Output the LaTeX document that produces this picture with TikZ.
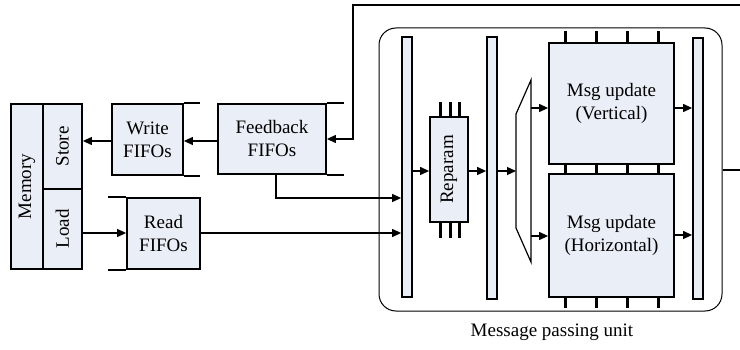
\documentclass[tikz,border=0pt]{standalone}
\usepackage{fontspec}
\setmainfont{Liberation Serif}
\usepackage{graphicx}
\usetikzlibrary{arrows.meta}
\definecolor{boxfill}{RGB}{234,238,246}
\begin{document}
\begin{tikzpicture}[x=1pt,y=-1pt,
  every node/.style={font=\fontsize{19}{23}\selectfont},
  blk/.style={draw, line width=1.8pt, fill=boxfill, inner sep=0pt, align=center},
  bar/.style={draw, line width=1.8pt, fill=boxfill, inner sep=0pt, minimum width=10pt},
  conn/.style={line width=1.2pt},
  arr/.style={conn, -{Triangle[length=9pt,width=8pt]}},
  pinline/.style={line width=3pt},
  fifoend/.style={line width=1.8pt}]
\useasboundingbox (0,0) rectangle (740,350);

% message passing unit frame
\node[draw, line width=1pt, rounded corners=17pt, minimum width=343pt, minimum height=283pt, inner sep=0pt]
  (mpu) at (550.5,169.5) {};
\node[anchor=base] (mpulabel) at (552,337) {Message passing unit};

% memory with store / load ports
\node[blk, minimum width=32pt, minimum height=165pt] (mem) at (27,186.5) {\rotatebox{90}{Memory}};
\node[blk, minimum width=39pt, minimum height=85pt] (store) at (62.5,146.5) {\rotatebox{90}{Store}};
\node[blk, minimum width=39pt, minimum height=80pt] (load) at (62.5,229) {\rotatebox{90}{Load}};

% FIFOs
\node[blk, minimum width=71pt, minimum height=71pt] (write) at (147.5,139.5) {Write\\FIFOs};
\node[blk, minimum width=73pt, minimum height=71pt] (read) at (163.5,233.5) {Read\\FIFOs};
\node[blk, minimum width=108pt, minimum height=70pt] (feedback) at (272,139) {Feedback\\FIFOs};
\draw[fifoend] (write.north east) -- ++(16,0) (write.south east) -- ++(16,0);
\draw[fifoend] (read.north west) -- ++(-18,0) (read.south west) -- ++(-18,0);
\draw[fifoend] (feedback.north east) -- ++(17,0) (feedback.south east) -- ++(17,0);

% pipeline registers
\node[bar, minimum height=260pt] (bar1) at (407,167) {};
\node[bar, minimum height=262pt] (bar2) at (492,168) {};
\node[bar, minimum height=261pt] (bar3) at (698,168.5) {};

% reparametrisation block
\node[blk, minimum width=38pt, minimum height=105pt] (reparam) at (449,169.5) {\rotatebox{90}{Reparam}};
\foreach \px in {440,450,459} {
  \draw[pinline] (reparam.north -| \px,0) -- ++(0,-14);
  \draw[pinline] (reparam.south -| \px,0) -- ++(0,15);
}

% demultiplexer
\coordinate (dmxlt) at (516,114);
\coordinate (dmxlb) at (516,228);
\coordinate (dmxrt) at (531,80);
\coordinate (dmxrb) at (531,262);
\draw[conn, fill=white] (dmxlt) -- (dmxrt) -- (dmxrb) -- (dmxlb) -- cycle;

% message update units
\node[blk, minimum width=125pt, minimum height=121pt] (msgv) at (611.5,103.5) {Msg update\\(Vertical)};
\node[blk, minimum width=125pt, minimum height=123pt] (msgh) at (611.5,235.5) {Msg update\\(Horizontal)};
\foreach \px in {565,596,627,658} {
  \draw[pinline] (msgv.north -| \px,0) -- ++(0,-11);
  \draw[pinline] (msgv.south -| \px,0) -- (msgh.north -| \px,0);
  \draw[pinline] (msgh.south -| \px,0) -- ++(0,10);
}

% data path
\draw[arr] (write.west |- 0,141) -- (store.east |- 0,141);
\draw[arr] (feedback.west |- 0,141) -- (write.east |- 0,141);
\draw[arr] (load.east |- 0,233) -- (read.west |- 0,233);
\draw[arr] (read.east |- 0,233) -- (bar1.west |- 0,233);
\draw[arr] (feedback.south -| 276,0) |- (bar1.west |- 0,198);
\draw[arr] (bar1.east |- 0,171) -- (reparam.west |- 0,171);
\draw[arr] (reparam.east |- 0,171) -- (bar2.west |- 0,171);
\draw[arr] (bar2.east |- 0,171) -- (dmxlt |- 0,171);
\draw[arr] (dmxrt |- 0,108) -- (msgv.west |- 0,108);
\draw[arr] (dmxrt |- 0,236) -- (msgh.west |- 0,236);
\draw[arr] (msgv.east |- 0,108) -- (bar3.west |- 0,108);
\draw[arr] (msgh.east |- 0,235) -- (bar3.west |- 0,235);

% feedback loop and output
\coordinate (loopin) at (740,5);
\coordinate (unitout) at (740,170);
\draw[arr] (loopin) -| (353,139) -- (feedback.east |- 0,139);
\draw[conn] (mpu.east |- 0,170) -- (unitout);
\end{tikzpicture}
\end{document}
